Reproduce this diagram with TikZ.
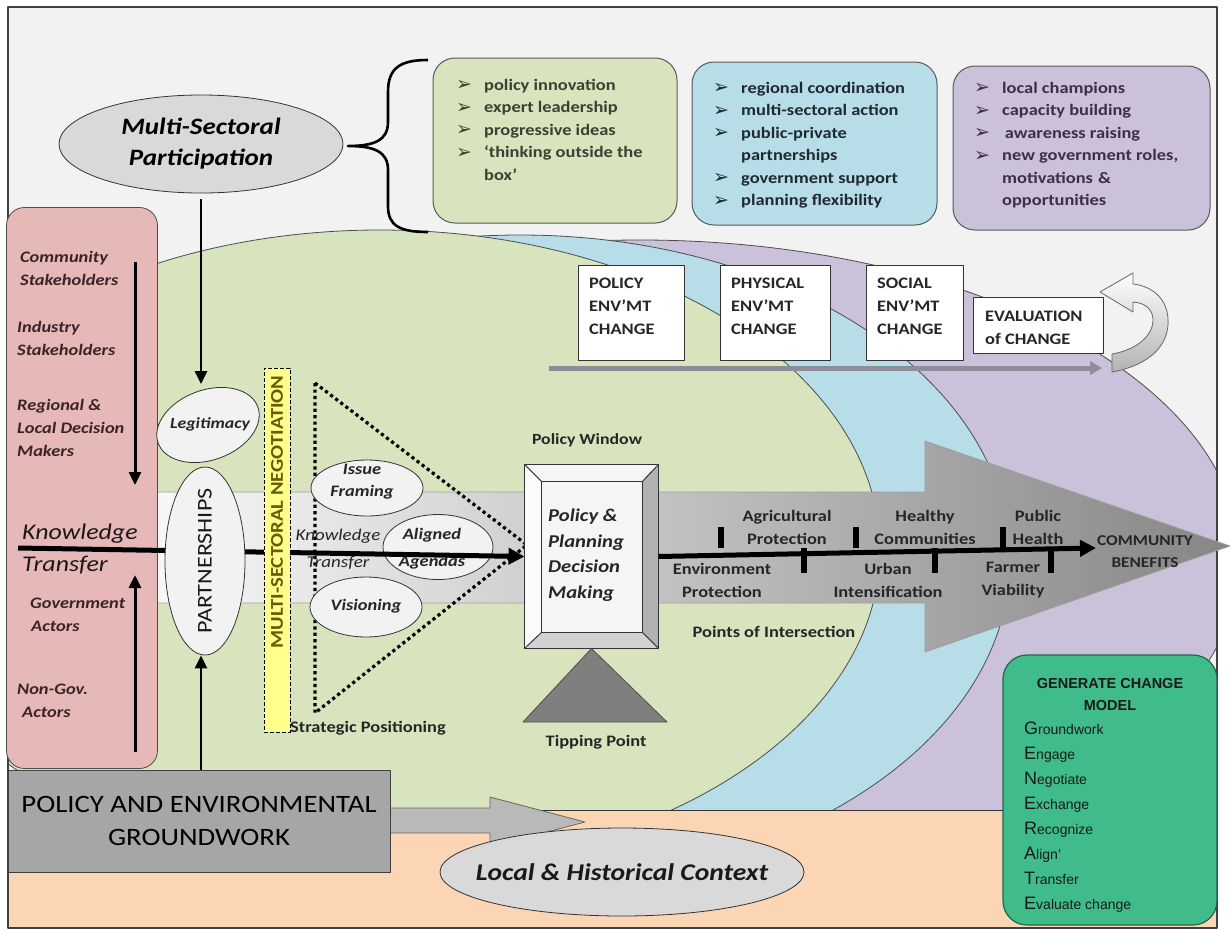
\documentclass[tikz,border=0pt]{standalone}
\usepackage{fontspec}
\setmainfont{Carlito}[FakeStretch=1.15]
\newfontfamily\arialf{Liberation Sans}
\newfontfamily\dingf{DejaVu Sans}
\usetikzlibrary{arrows.meta,shapes.geometric,calc}

\definecolor{framebg}{HTML}{F2F2F2}
\definecolor{zonegreen}{HTML}{D7E4BD}
\definecolor{zoneblue}{HTML}{B7DEE8}
\definecolor{zonepurple}{HTML}{CCC1DA}
\definecolor{peach}{HTML}{FCD5B5}
\definecolor{pinkpanel}{HTML}{E6B9B8}
\definecolor{pinktext}{HTML}{3A2424}
\definecolor{ovalgray}{HTML}{D9D9D9}
\definecolor{ovalpale}{HTML}{F2F2F2}
\definecolor{negyellow}{HTML}{FFFF8C}
\definecolor{negtext}{HTML}{6B5A00}
\definecolor{gwgray}{HTML}{A6A6A6}
\definecolor{gcmfill}{HTML}{40BC8A}
\definecolor{gcmline}{HTML}{23664C}
\definecolor{tipgray}{HTML}{7F7F7F}
\definecolor{trackgray}{HTML}{8E8C99}
\definecolor{greentext}{HTML}{3C3F33}
\definecolor{bluetext}{HTML}{1F2A30}
\definecolor{purpletext}{HTML}{3B3046}

\newcommand\bulmark{\makebox[28pt][l]{\dingf\fontsize{19}{19}\selectfont\raisebox{-0.5pt}{➢}}}
\newcommand\bulcont{\makebox[28pt][l]{}}
\newcommand\gcmletter[2]{{\fontsize{18}{18}\selectfont #1}#2}

\begin{document}
\begin{tikzpicture}[x=1pt,y=-1pt,
  line join=round,
  arr/.style={-{Triangle[length=13pt,width=12pt]}},
  bigarr/.style={-{Triangle[length=16pt,width=16pt]}},
  oval/.style={ellipse,draw=black!80,line width=0.8pt,inner sep=0pt},
  card/.style={draw=black!65,line width=1pt,rounded corners=22pt,inner sep=0pt},
  bullets/.style={anchor=north west,align=left,inner sep=0pt,font=\fontsize{16}{22.5}\selectfont\bfseries},
  chgbox/.style={draw=black!80,line width=1pt,fill=white,inner sep=0pt},
  chgtext/.style={anchor=north west,align=left,inner sep=0pt,font=\fontsize{16}{23}\selectfont\bfseries,text=black!85},
  pinklabel/.style={anchor=west,align=left,inner sep=0pt,font=\fontsize{16}{23}\selectfont\bfseries\itshape,text=pinktext},
  note/.style={inner sep=0pt,align=center,font=\fontsize{16}{23}\selectfont\bfseries,text=black!85},
  ovaltext/.style={inner sep=0pt,align=center,font=\fontsize{16}{22}\selectfont\bfseries\itshape,text=black!85},
  dotline/.style={line width=3.2pt,dash pattern=on 3.2pt off 3.2pt},
  tick/.style={line width=6pt}
]
\path[use as bounding box] (0,0) rectangle (1231,930);
\fill[white] (0,0) rectangle (1231,930);
\fill[framebg] (8,7) rectangle (1217,928);

% nested zones of change
\begin{scope}
  \clip (8,7) rectangle (1217,810);
  \filldraw[fill=zonepurple,draw=black!70,line width=0.8pt] (640,559) ellipse [x radius=600,y radius=319];
  \filldraw[fill=zoneblue,draw=black!70,line width=0.8pt] (520,560) ellipse [x radius=490,y radius=325];
  \filldraw[fill=zonegreen,draw=black!70,line width=0.8pt] (380,550) ellipse [x radius=500,y radius=320];
\end{scope}
\fill[peach] (8,810) rectangle (1217,928);
\draw[black!80,line width=0.8pt] (8,810) -- (1217,810);
\draw[black!75,line width=1.2pt] (8,7) rectangle (1217,928);

% broad arrow of the decision track
\shadedraw[left color=gray!6,middle color=gray!28,right color=gray!95,draw=gray!75,line width=0.8pt]
  (157,492) -- (925,492) -- (925,441) -- (1230,546) -- (925,652) -- (925,603) -- (157,603) -- cycle;

% participation oval, brace and the three cards
\node[oval,fill=ovalgray,minimum width=284pt,minimum height=98pt,align=center,
      font=\fontsize{23.5}{31}\selectfont\bfseries\itshape] (msp) at (201,144) {Multi-Sectoral\\Participation};
\coordinate (brace-tip) at (348,146);
\draw[line width=2.6pt] (428,60) .. controls (400,60) and (388,68) .. (388,92) -- (388,122)
  .. controls (388,140) and (375,146) .. (brace-tip)
  .. controls (375,146) and (388,152) .. (388,170) -- (388,206)
  .. controls (388,226) and (400,232) .. (428,232);

\node[card,fill=zonegreen,minimum width=244pt,minimum height=165pt] (card1) at (555,140.5) {};
\node[bullets,text=greentext] (card1text) at (456,79)
  {\bulmark policy innovation\\\bulmark expert leadership\\\bulmark progressive ideas\\\bulmark ‘thinking outside the\\\bulcont box’};
\node[card,fill=zoneblue,minimum width=245pt,minimum height=163pt] (card2) at (814.5,143.5) {};
\node[bullets,text=bluetext] (card2text) at (713,82)
  {\bulmark regional coordination\\\bulmark multi-sectoral action\\\bulmark public-private\\\bulcont partnerships\\\bulmark government support\\\bulmark planning flexibility};
\node[card,fill=zonepurple,minimum width=257pt,minimum height=164pt] (card3) at (1081.5,148) {};
\node[bullets,text=purpletext] (card3text) at (974,82)
  {\bulmark local champions\\\bulmark capacity building\\\bulmark \,awareness raising\\\bulmark new government roles,\\\bulcont motivations\hspace{5pt}\&\\\bulcont opportunities};

% change boxes along the evaluation track
\node[chgbox,minimum width=106pt,minimum height=95pt] (chg1) at (631,312.5) {};
\node[chgtext] (chg1text) at (589,278) {POLICY\\ENV’MT\\CHANGE};
\node[chgbox,minimum width=110pt,minimum height=95pt] (chg2) at (775,312.5) {};
\node[chgtext] (chg2text) at (731,278) {PHYSICAL\\ENV’MT\\CHANGE};
\node[chgbox,minimum width=97pt,minimum height=95pt] (chg3) at (914.5,312.5) {};
\node[chgtext] (chg3text) at (877,278) {SOCIAL\\ENV’MT\\CHANGE};
\node[chgbox,minimum width=130pt,minimum height=56pt] (chg4) at (1038,325) {};
\node[chgtext] (chg4text) at (985,311) {EVALUATION\\of CHANGE};
\coordinate (track-start) at (549,368);
\coordinate (loop-in) at (1102,368);
\draw[line width=5pt,trackgray,-{Triangle[length=12pt,width=13pt]}] (track-start) -- (loop-in);
% feedback loop arrow
\shadedraw[top color=white,bottom color=gray!60,draw=black!60,line width=0.8pt]
  (1112,372) .. controls (1150,365) and (1170,345) .. (1168,318)
  .. controls (1166,296) and (1150,286) .. (1133,284) -- (1133,273) -- (1100,292) -- (1133,312) -- (1133,302)
  .. controls (1146,303) and (1153,310) .. (1153,320)
  .. controls (1153,336) and (1136,350) .. (1112,354) -- cycle;

% stakeholder panel
\node[draw=black!70,fill=pinkpanel,line width=0.8pt,rounded corners=18pt,minimum width=151pt,minimum height=561pt,inner sep=0pt] (pink) at (82,488) {};
\node[pinklabel] (stake1) at (20,268.5) {Community\\Stakeholders};
\node[pinklabel] (stake2) at (17,338.5) {Industry\\Stakeholders};
\node[pinklabel] (stake3) at (17,428) {Regional \&\\Local Decision\\Makers};
\node[pinklabel] (stake4) at (30,615) {Government\\\hspace{1pt}Actors};
\node[pinklabel] (stake5) at (17,701) {Non-Gov.\\\hspace{5pt}Actors};
\coordinate (down-a) at (135,262);
\coordinate (down-b) at (135,485);
\coordinate (up-a) at (135,752);
\coordinate (up-b) at (135,575);
\draw[arr,line width=3pt] (down-a) -- (down-b);
\draw[arr,line width=3pt] (up-a) -- (up-b);
\node[anchor=west,align=left,inner sep=0pt,font=\fontsize{22.5}{32}\selectfont\itshape,text=black!90] (ktbig) at (22,549) {Knowledge\\Transfer};

% strategic positioning triangle and its ovals
\coordinate (tri-top) at (315,383);
\coordinate (tri-tip) at (527,545);
\coordinate (tri-bottom) at (315,713);
\draw[dotline] (tri-top) -- (tri-tip) -- (tri-bottom) -- cycle;
\node[oval,fill=ovalpale,minimum width=112pt,minimum height=56pt] (issue) at (367,488) {};
\node[ovaltext] (issuetext) at (362,482) {Issue\\Framing};
\node[oval,fill=ovalpale,minimum width=110pt,minimum height=65pt] (aligned) at (438,547) {};
\node[ovaltext,font=\fontsize{16}{27}\selectfont\bfseries\itshape] (alignedtext) at (432,549) {Aligned\\Agendas};
\node[oval,fill=ovalpale,minimum width=112pt,minimum height=60pt] (vision) at (366,607) {};
\node[ovaltext] (visiontext) at (366,606) {Visioning};
\node[inner sep=0pt,align=center,font=\fontsize{16.5}{27}\selectfont\itshape,text=black!85] (ktsmall) at (338,549) {Knowledge\\Transfer};
\node[note] (strat) at (368,728) {Strategic Positioning};

% policy and planning decision box
\node[draw=black!80,line width=1pt,minimum width=133pt,minimum height=183pt,inner sep=0pt] (pdm) at (591.5,556.5) {};
\coordinate (in-nw) at ($(pdm.north west)+(17,17)$);
\coordinate (in-ne) at ($(pdm.north east)+(-16,17)$);
\coordinate (in-se) at ($(pdm.south east)+(-16,-16)$);
\coordinate (in-sw) at ($(pdm.south west)+(17,-16)$);
\filldraw[fill=gray!8,draw=black!80,line width=0.8pt] (pdm.north west) -- (pdm.north east) -- (in-ne) -- (in-nw) -- cycle;
\filldraw[fill=gray!3,draw=black!80,line width=0.8pt] (pdm.north west) -- (in-nw) -- (in-sw) -- (pdm.south west) -- cycle;
\filldraw[fill=gray!60,draw=black!80,line width=0.8pt] (pdm.north east) -- (in-ne) -- (in-se) -- (pdm.south east) -- cycle;
\filldraw[fill=gray!35,draw=black!80,line width=0.8pt] (pdm.south west) -- (in-sw) -- (in-se) -- (pdm.south east) -- cycle;
\filldraw[fill=gray!8,draw=black!80,line width=1pt] (in-nw) rectangle (in-se);
\node[anchor=west,align=left,inner sep=0pt,font=\fontsize{18}{25.5}\selectfont\bfseries\itshape,text=black!85] (pdmtext) at (548,555) {Policy \&\\Planning\\Decision\\Making};
\node[note,font=\fontsize{15.5}{20}\selectfont\bfseries] (pwin) at (587,440) {Policy Window};
\coordinate (tip-l) at (523,722);
\coordinate (tip-r) at (667,722);
\filldraw[fill=tipgray,draw=black!70,line width=0.8pt] (pdm.south) -- (tip-r) -- (tip-l) -- cycle;
\node[note] (tipping) at (596,742) {Tipping Point};

% knowledge transfer line into the decision box
\coordinate (kt-start) at (18,548);
\draw[bigarr,line width=5pt] (kt-start) -- (pdm.west);

% negotiation strip, partnerships and legitimacy
\node[draw=black,dash pattern=on 4pt off 2pt,fill=negyellow,line width=0.8pt,minimum width=26pt,minimum height=364pt,inner sep=0pt] (neg) at (277,550) {};
\node[rotate=90,inner sep=0pt,font=\fontsize{18}{18}\selectfont\bfseries,text=negtext] (negtext) at (277,512) {MULTI-SECTORAL NEGOTIATION};
\node[oval,fill=ovalpale,minimum width=80pt,minimum height=188pt] (partner) at (205,561) {};
\node[rotate=90,inner sep=0pt,font=\fontsize{21}{21}\selectfont,text=black!90] (partnertext) at (partner.center) {PARTNERSHIPS};
\node[oval,fill=ovalpale,minimum width=106pt,minimum height=70pt,rotate=20] (legit) at (208,425) {};
\node[ovaltext,font=\fontsize{15.5}{20}\selectfont\bfseries\itshape] (legittext) at (210,424) {Legitimacy};
\coordinate (legit-top) at (201,384);
\draw[arr,line width=2.6pt] ([yshift=-6pt]msp.south) -- (legit-top);

% outcomes along the decision track
\coordinate (cb-end) at (1096,548);
\draw[bigarr,line width=5pt] (pdm.east) -- (cb-end);
\foreach \x in {721,856,1003} \draw[tick] (\x,527) -- (\x,548);
\foreach \x in {804,935,1051} \draw[tick] (\x,548) -- (\x,573);
\node[note] (agri) at (787,527) {Agricultural\\Protection};
\node[note] (healthy) at (925,527) {Healthy\\Communities};
\node[note] (public) at (1038,527) {Public\\Health};
\node[note] (envprot) at (722,580) {Environment\\Protection};
\node[note] (urban) at (888,580) {Urban\\Intensification};
\node[note] (farmer) at (1013,580) {Farmer\\Viability};
\node[note,font=\fontsize{15}{22}\selectfont\bfseries] (benefits) at (1145,552) {COMMUNITY\\BENEFITS};
\node[note] (poi) at (774,632) {Points of Intersection};

% groundwork block arrow
\filldraw[fill=gray!55,draw=black!60,line width=0.8pt]
  (385,808) -- (490,808) -- (490,797) -- (585,822) -- (490,847) -- (490,833) -- (385,833) -- cycle;
\node[draw=black!75,fill=gwgray,line width=1pt,minimum width=382pt,minimum height=102pt,inner sep=0pt] (gw) at (199,821) {};
\node[align=center,inner sep=0pt,font=\fontsize{25}{33}\selectfont,text=black] (gwtext) at (gw.center) {POLICY AND ENVIRONMENTAL\\GROUNDWORK};
\draw[arr,line width=2.6pt] (gw.north -| msp.south) -- (partner.south -| msp.south);

% local context oval
\node[oval,fill=ovalgray,minimum width=364pt,minimum height=88pt] (ctx) at (622,872) {};
\node[inner sep=0pt,font=\fontsize{24}{24}\selectfont\bfseries\itshape,text=black!90] (ctxtext) at (ctx.center) {Local \& Historical Context};

% GENERATE change model card
\node[draw=gcmline,fill=gcmfill,line width=1.2pt,rounded corners=24pt,minimum width=214pt,minimum height=270pt,inner sep=0pt] (gcm) at (1110,790) {};
\node[align=center,inner sep=0pt,font=\arialf\bfseries\fontsize{14.5}{22}\selectfont,text=black!90] (gcmtitle) at (1110,694) {GENERATE CHANGE\\MODEL};
\node[anchor=north west,align=left,inner sep=0pt,font=\arialf\fontsize{14}{25}\selectfont,text=black!90] (gcmlist) at (1024,722)
  {\gcmletter{G}{roundwork}\\\gcmletter{E}{ngage}\\\gcmletter{N}{egotiate}\\\gcmletter{E}{xchange}\\\gcmletter{R}{ecognize}\\\gcmletter{A}{lign’}\\\gcmletter{T}{ransfer}\\\gcmletter{E}{valuate change}};
\end{tikzpicture}
\end{document}
